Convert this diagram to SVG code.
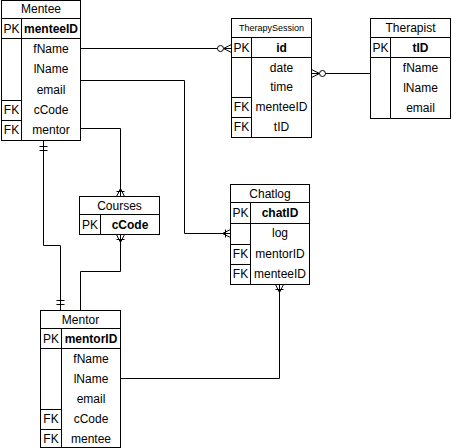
<svg xmlns="http://www.w3.org/2000/svg" width="452" height="448" viewBox="0 0 452 448">
<style>
  .box{fill:#fff;stroke:#000;stroke-width:1}
  .ln{fill:none;stroke:#000;stroke-width:1}
  text{font-family:"Liberation Sans",Arial,Helvetica,sans-serif;font-size:12px;fill:#000;text-anchor:middle}
  .b{font-weight:bold}
  .sm{font-size:9px}
  .conn{fill:none;stroke:#000;stroke-width:1}
</style>
<defs>
  <marker id="oneMany" markerUnits="userSpaceOnUse" orient="auto-start-reverse" refX="0" refY="0" markerWidth="20" markerHeight="20" overflow="visible">
    <path d="M-8,0 L0,-4 M-8,0 L0,4 M-8,0 L0,0 M-5,-4 L-5,4" fill="none" stroke="#000" stroke-width="1"/>
  </marker>
  <marker id="zeroMany" markerUnits="userSpaceOnUse" orient="auto-start-reverse" refX="0" refY="0" markerWidth="20" markerHeight="20" overflow="visible">
    <path d="M-8,0 L0,-4 M-8,0 L0,4 M-8,0 L0,0" fill="none" stroke="#000" stroke-width="1"/>
    <circle cx="-11" cy="0" r="3" fill="#fff" stroke="#000" stroke-width="1"/>
  </marker>
  <marker id="oneOne" markerUnits="userSpaceOnUse" orient="auto-start-reverse" refX="0" refY="0" markerWidth="20" markerHeight="20" overflow="visible">
    <path d="M-6,-4 L-6,4 M-10,-4 L-10,4" fill="none" stroke="#000" stroke-width="1"/>
  </marker>
</defs>
<rect width="452" height="448" fill="#fff"/>

<g id="connectors">
  <path class="conn" d="M80.5 48.5 H231.5" marker-end="url(#zeroMany)"/>
  <path class="conn" d="M80.5 80.5 H184.5 V233.5 H230.5" marker-end="url(#oneMany)"/>
  <path class="conn" d="M80.5 128.5 H120.5 V196.5" marker-end="url(#oneMany)"/>
  <path class="conn" d="M120.5 234.5 V271.5 H80.5 V310.5" marker-start="url(#oneMany)"/>
  <path class="conn" d="M43.5 140.5 V245.5 H60.5 V310.5" marker-start="url(#oneOne)" marker-end="url(#oneOne)"/>
  <path class="conn" d="M120.5 378.5 H279.5 V284.5" marker-end="url(#oneMany)"/>
  <path class="conn" d="M311.5 73.5 H370.5" marker-start="url(#zeroMany)"/>
</g>

<g id="Mentee">
  <rect class="box" x="1.5" y="0.5" width="79" height="140"/>
  <path class="ln" d="M1.5 18.5 H80.5 M1.5 38.5 H80.5 M21.5 18.5 V140.5 M1.5 100.5 H21.5 M1.5 120.5 H21.5"/>
  <text x="41" y="13">Mentee</text>
  <text x="11.5" y="33">PK</text>
  <text class="b" x="51" y="33">menteeID</text>
  <text x="51" y="53">fName</text>
  <text x="51" y="73">lName</text>
  <text x="51" y="94">email</text>
  <text x="51" y="114">cCode</text>
  <text x="51" y="134">mentor</text>
  <text x="11.5" y="114">FK</text>
  <text x="11.5" y="134">FK</text>
</g>

<g id="TherapySession">
  <rect class="box" x="231.5" y="18.5" width="80" height="119"/>
  <path class="ln" d="M231.5 37.5 H311.5 M231.5 57.5 H311.5 M251.5 37.5 V137.5 M231.5 97.5 H251.5 M231.5 117.5 H251.5"/>
  <text class="sm" x="271.5" y="31">TherapySession</text>
  <text x="241.5" y="52">PK</text>
  <text class="b" x="281.5" y="52">id</text>
  <text x="281.5" y="72">date</text>
  <text x="281.5" y="91">time</text>
  <text x="281.5" y="111">menteeID</text>
  <text x="281.5" y="131">tID</text>
  <text x="241.5" y="111">FK</text>
  <text x="241.5" y="131">FK</text>
</g>

<g id="Therapist">
  <rect class="box" x="370.5" y="18.5" width="80" height="100"/>
  <path class="ln" d="M370.5 37.5 H450.5 M370.5 57.5 H450.5 M390.5 37.5 V118.5"/>
  <text x="410.5" y="32">Therapist</text>
  <text x="380.5" y="52">PK</text>
  <text class="b" x="420.5" y="52">tID</text>
  <text x="420.5" y="72">fName</text>
  <text x="420.5" y="92">lName</text>
  <text x="420.5" y="112">email</text>
</g>

<g id="Courses">
  <rect class="box" x="79.5" y="196.5" width="80" height="38"/>
  <path class="ln" d="M79.5 214.5 H159.5 M100.5 214.5 V234.5"/>
  <text x="119.5" y="210">Courses</text>
  <text x="90" y="229">PK</text>
  <text class="b" x="130" y="229">cCode</text>
</g>

<g id="Chatlog">
  <rect class="box" x="230.5" y="184.5" width="79" height="100"/>
  <path class="ln" d="M230.5 202.5 H309.5 M230.5 223.5 H309.5 M250.5 202.5 V284.5 M230.5 244.5 H250.5 M230.5 264.5 H250.5"/>
  <text x="270" y="198">Chatlog</text>
  <text x="240.5" y="217">PK</text>
  <text class="b" x="280" y="217">chatID</text>
  <text x="280" y="237">log</text>
  <text x="280" y="258">mentorID</text>
  <text x="280" y="278">menteeID</text>
  <text x="240.5" y="258">FK</text>
  <text x="240.5" y="278">FK</text>
</g>

<g id="Mentor">
  <rect class="box" x="40.5" y="310.5" width="80" height="137"/>
  <path class="ln" d="M40.5 328.5 H120.5 M40.5 348.5 H120.5 M61.5 328.5 V447.5 M40.5 409.5 H61.5 M40.5 429.5 H61.5"/>
  <text x="80.5" y="324">Mentor</text>
  <text x="51" y="343">PK</text>
  <text class="b" x="91" y="343">mentorID</text>
  <text x="91" y="363">fName</text>
  <text x="91" y="383">lName</text>
  <text x="91" y="403">email</text>
  <text x="91" y="423">cCode</text>
  <text x="91" y="443">mentee</text>
  <text x="51" y="423">FK</text>
  <text x="51" y="443">FK</text>
</g>
</svg>
